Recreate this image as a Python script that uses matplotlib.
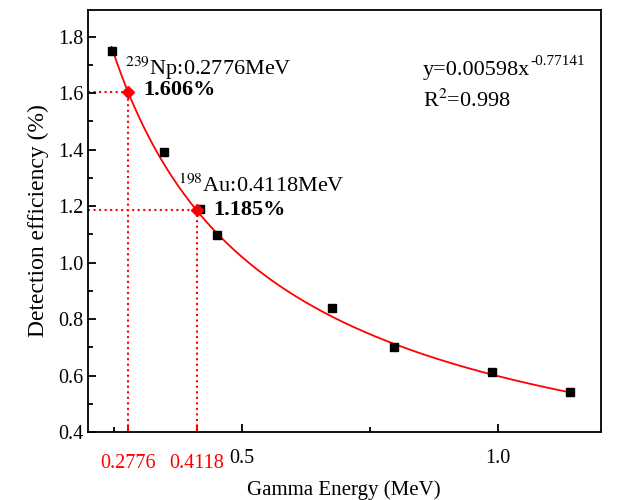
import numpy as np
import matplotlib
matplotlib.use("Agg")
import matplotlib.pyplot as plt

plt.rcParams['font.family'] = ['Liberation Serif', 'DejaVu Serif']
plt.rcParams['mathtext.fontset'] = 'stix'

# measured points (MeV, %)
energy = [0.246, 0.349, 0.419, 0.452, 0.676, 0.798, 0.988, 1.141]
eff = [1.750, 1.391, 1.190, 1.098, 0.839, 0.701, 0.612, 0.542]

# fit y = a * x^b  (in %)
fit_a = 0.598
fit_b = -0.77141

# interpolated lines
np_e, np_eff = 0.2776, 1.606
au_e, au_eff = 0.4118, 1.185

fig = plt.figure(figsize=(6.17, 5.0), dpi=100)
ax = fig.add_axes([88 / 617, (500 - 432) / 500, (600.5 - 88) / 617, (432 - 10) / 500])

xs = np.linspace(energy[0], energy[-1], 300)
ax.plot(xs, fit_a * xs ** fit_b, color='red', lw=1.3, zorder=2)
ax.plot(energy, eff, 's', color='black', ms=6, zorder=3)

for e, v in [(np_e, np_eff), (au_e, au_eff)]:
    ax.plot([0.2, e], [v, v], ':', color='red', lw=1.5, zorder=1)
    ax.plot([e, e], [0.4, v], ':', color='red', lw=1.5, zorder=1)
    ax.plot(e, v, 'D', color='red', ms=6.5, zorder=4)

ax.set_xlim(0.2, 1.2)
ax.set_ylim(0.4, 1.895)
ax.set_xticks([0.5, 1.0])
ax.set_xticklabels(['0.5', '1.0'])
ax.set_xticks([0.25, 0.75], minor=True)
ax.set_yticks(np.arange(0.4, 1.81, 0.2))
ax.set_yticklabels(['%.1f' % v for v in np.arange(0.4, 1.81, 0.2)])
ax.set_yticks(np.arange(0.5, 1.81, 0.2), minor=True)
ax.tick_params(axis='both', which='major', direction='in', length=6, width=1.3,
               labelsize=14.5, top=False, right=False)
ax.tick_params(axis='both', which='minor', direction='in', length=3.5, width=1.3,
               top=False, right=False)
ax.tick_params(axis='x', which='major', pad=12)
for s in ax.spines.values():
    s.set_linewidth(1.3)

# red tick labels at the interpolated energies
for e in [np_e, au_e]:
    ax.text(e, -0.075, '%.4f' % e, color='red', fontsize=14.5, ha='center', va='center',
            transform=ax.get_xaxis_transform())
    ax.plot([e, e], [0.4, 0.4 + 6 / 282], color='red', lw=1.5, zorder=1)

ax.set_xlabel('Gamma Energy (MeV)', fontsize=15, labelpad=9)
ax.set_ylabel('Detection efficiency (%)', fontsize=17, labelpad=6)

ax.text(0.272, 1.689, r'$^{239}$Np:0.2776MeV', fontsize=16, va='center')
ax.text(0.308, 1.611, '1.606%', fontsize=16, fontweight='bold', va='center')
ax.text(0.376, 1.271, r'$^{198}$Au:0.4118MeV', fontsize=16, va='center')
ax.text(0.445, 1.186, '1.185%', fontsize=16, fontweight='bold', va='center')
eq = ax.text(0.854, 1.682, 'y=0.00598x', fontsize=16, va='center')
ax.annotate('-0.77141', xy=(1, 0.62), xycoords=eq, fontsize=11, va='bottom', ha='left')
ax.text(0.854, 1.575, r'R$^{2}$=0.998', fontsize=16, va='center')

fig.savefig('out.png', dpi=100)
